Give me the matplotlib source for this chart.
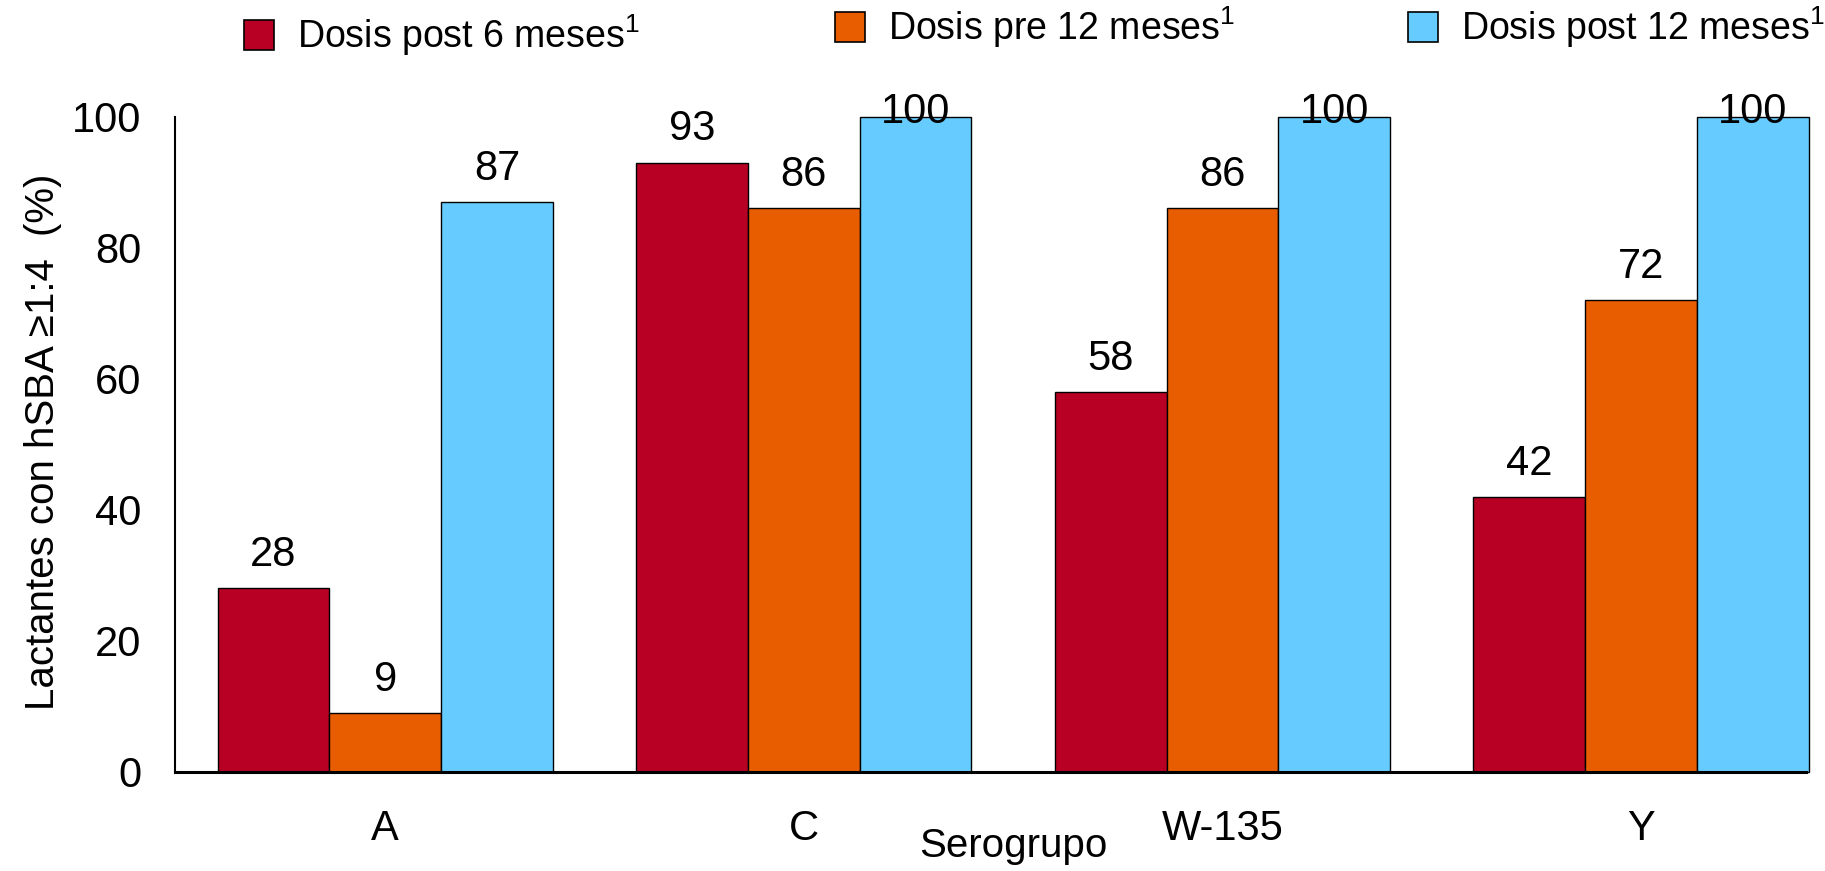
import numpy as np
import matplotlib
matplotlib.use('Agg')
import matplotlib.pyplot as plt
from matplotlib.patches import Rectangle

plt.rcParams['font.family'] = ['Liberation Sans', 'DejaVu Sans']
plt.rcParams['mathtext.fontset'] = 'custom'
plt.rcParams['mathtext.rm'] = 'Liberation Sans'

grupos = ['A', 'C', 'W-135', 'Y']
series = ['Dosis post 6 meses$^\\mathregular{1}$',
          'Dosis pre 12 meses$^\\mathregular{1}$',
          'Dosis post 12 meses$^\\mathregular{1}$']
post6 = [28, 93, 58, 42]
pre12 = [9, 86, 86, 72]
post12 = [87, 100, 100, 100]
colores = ['#B70023', '#E85D00', '#66CCFF']

fig = plt.figure(figsize=(18.25, 8.71), dpi=100)
ax = fig.add_axes([0.0957, 0.114, 0.8941, 0.752])

x = np.arange(len(grupos))
w = 0.267
for k, (vals, col) in enumerate(zip([post6, pre12, post12], colores)):
    pos = x + (k - 1) * w
    ax.bar(pos, vals, w, color=col, edgecolor='black', linewidth=1.0,
           clip_on=False, zorder=2)
    for xi, v in zip(pos, vals):
        # labels on the full bars sit over the top edge
        ax.text(xi, min(v + 2, 97.6), str(v), ha='center', va='bottom',
                fontsize=30, clip_on=False, zorder=3)

ax.set_xlim(-0.503, 3.395)
ax.set_ylim(0, 100)
ax.set_yticks([0, 20, 40, 60, 80, 100])
ax.set_xticks(x)
ax.set_xticklabels(grupos)
ax.tick_params(axis='both', length=0, labelsize=30)
ax.tick_params(axis='x', pad=27)
ax.tick_params(axis='y', pad=24)
for s in ['top', 'right']:
    ax.spines[s].set_visible(False)
ax.spines['left'].set_linewidth(1.5)
ax.spines['bottom'].set_linewidth(2.2)

fig.text(0.0235, 0.4925, 'Lactantes con hSBA \u22651:4  (%)', rotation=90,
         ha='center', va='center', fontsize=29)
fig.text(0.555, 0.029, 'Serogrupo', ha='center', va='center', fontsize=29)

# legend drawn by hand: three boxes with labels, first one slightly lower
leg_x = [0.1337, 0.4575, 0.7713]
leg_y = [0.960, 0.969, 0.969]
bw, bh = 0.0165, 0.0345
for lx, ly, col, lab in zip(leg_x, leg_y, colores, series):
    fig.add_artist(Rectangle((lx, ly - bh / 2), bw, bh, transform=fig.transFigure,
                             facecolor=col, edgecolor='black', linewidth=1.2))
    fig.text(lx + bw + 0.0125, ly, lab, ha='left', va='center', fontsize=27)

fig.savefig('out.png', dpi=100)
